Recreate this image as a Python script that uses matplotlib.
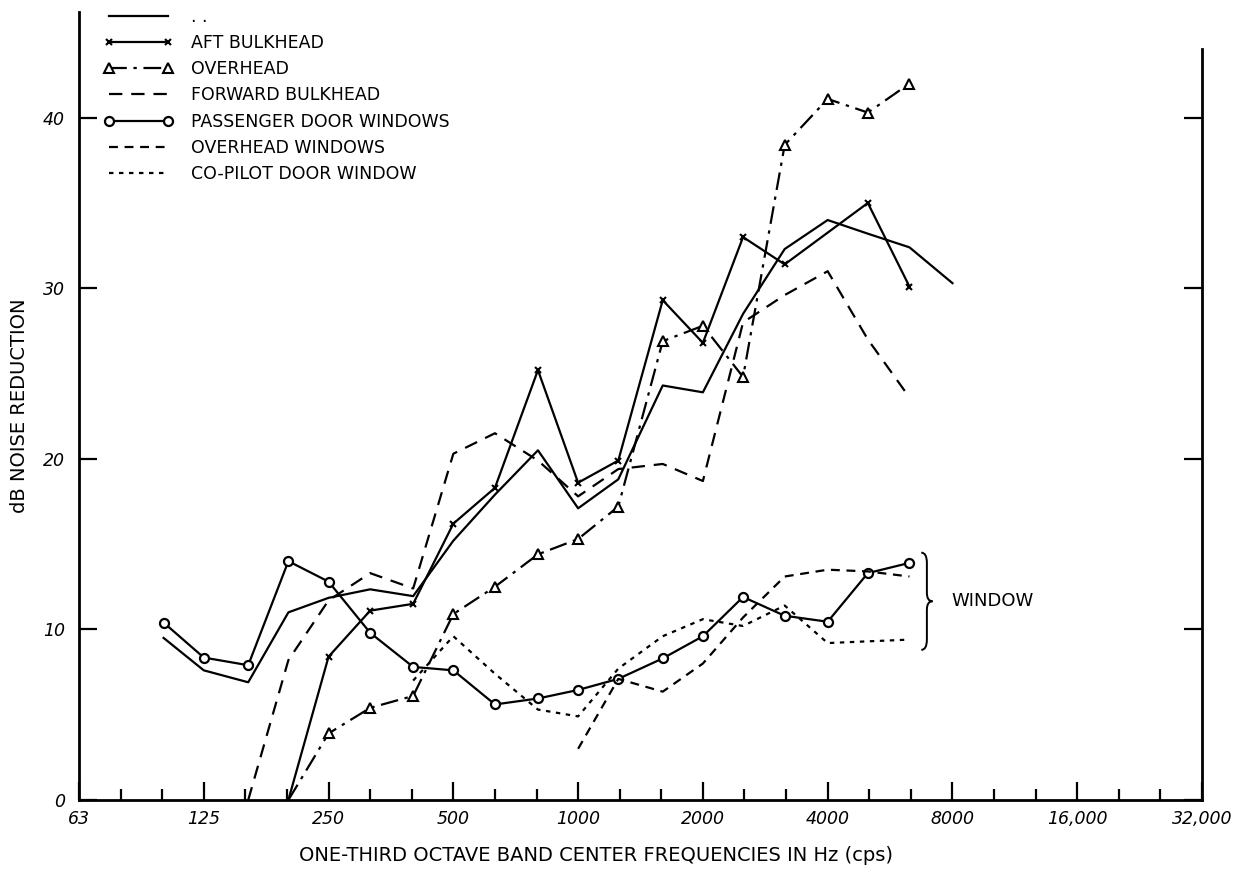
import matplotlib
matplotlib.use('Agg')
import matplotlib.pyplot as plt
from matplotlib.path import Path
from matplotlib.patches import PathPatch
import matplotlib.transforms as mtransforms

# ── data (one-third octave band centres, dB noise reduction) ─────────────
unlabeled_f = [100, 125, 160, 200, 250, 315, 400, 500, 630, 800, 1000, 1250,
               1600, 2000, 2500, 3150, 4000, 5000, 6300, 8000]
unlabeled_db = [9.5, 7.6, 6.9, 11.0, 11.85, 12.35, 11.95, 15.2, 17.9, 20.5,
                17.1, 18.8, 24.3, 23.9, 28.5, 32.3, 34.0, 33.2, 32.4, 30.3]

aft_f = [200, 250, 315, 400, 500, 630, 800, 1000, 1250, 1600, 2000, 2500,
         3150, 5000, 6300]
aft_db = [0.0, 8.4, 11.1, 11.5, 16.2, 18.3, 25.2, 18.6, 19.9, 29.3, 26.8,
          33.0, 31.4, 35.0, 30.1]

overhead_f = [200, 250, 315, 400, 500, 630, 800, 1000, 1250, 1600, 2000,
              2500, 3150, 4000, 5000, 6300]
overhead_db = [0.0, 3.9, 5.4, 6.1, 10.9, 12.5, 14.4, 15.3, 17.2, 26.9, 27.8,
               24.8, 38.4, 41.1, 40.3, 42.0]

forward_f = [160, 200, 250, 315, 400, 500, 630, 800, 1000, 1250, 1600, 2000,
             2500, 3150, 4000, 5000, 6300]
forward_db = [0.0, 8.2, 11.7, 13.3, 12.4, 20.3, 21.5, 19.9, 17.8, 19.4, 19.7,
              18.7, 28.0, 29.6, 31.0, 27.0, 23.6]

passenger_f = [100, 125, 160, 200, 250, 315, 400, 500, 630, 800, 1000, 1250,
               1600, 2000, 2500, 3150, 4000, 5000, 6300]
passenger_db = [10.4, 8.35, 7.9, 14.0, 12.8, 9.8, 7.8, 7.6, 5.6, 5.95, 6.45,
                7.1, 8.3, 9.6, 11.9, 10.8, 10.45, 13.3, 13.9]

ovh_win_f = [1000, 1250, 1600, 2000, 2500, 3150, 4000, 5000, 6300]
ovh_win_db = [3.0, 7.1, 6.35, 8.0, 10.7, 13.1, 13.5, 13.4, 13.1]

copilot_f = [400, 500, 630, 800, 1000, 1250, 1600, 2000, 2500, 3150, 4000,
             5000, 6300]
copilot_db = [7.0, 9.6, 7.4, 5.3, 4.9, 7.7, 9.6, 10.6, 10.2, 11.4, 9.2, 9.3,
              9.4]

octave_ticks = [62.5 * 2 ** k for k in range(10)]
octave_labels = ['63', '125', '250', '500', '1000', '2000', '4000', '8000',
                 '16,000', '32,000']
y_ticks = [0, 10, 20, 30, 40]

# window bracket (annotation)
brace_lo, brace_hi = 8.8, 14.5
brace_x = 0.753          # axes fraction

plt.rcParams['font.family'] = ['DejaVu Sans']

fig = plt.figure(figsize=(12.46, 8.72), dpi=100)
ax = fig.add_axes([0.0634, 0.0826, 0.9013, 0.9037])
ax.set_xscale('log', base=2)
ax.set_xlim(62.5, 32000)
ax.set_ylim(0, 46.2)

lw = 1.6
k = 'black'
ax.plot(unlabeled_f, unlabeled_db, color=k, lw=lw, label='. .')
ax.plot(aft_f, aft_db, color=k, lw=lw, marker='x', ms=5, mew=1.5,
        markevery=list(range(1, len(aft_f))), label='AFT BULKHEAD')
ax.plot(overhead_f, overhead_db, color=k, lw=lw, dashes=(8, 3, 1.5, 3),
        marker='^', ms=7, mfc='white', mew=1.5,
        markevery=list(range(1, len(overhead_f))), label='OVERHEAD')
ax.plot(forward_f, forward_db, color=k, lw=lw, dashes=(6, 4),
        label='FORWARD BULKHEAD')
ax.plot(passenger_f, passenger_db, color=k, lw=lw, marker='o', ms=6.5,
        mfc='white', mew=1.6, label='PASSENGER DOOR WINDOWS')
ax.plot(ovh_win_f, ovh_win_db, color=k, lw=lw, dashes=(4, 3),
        label='OVERHEAD WINDOWS')
ax.plot(copilot_f, copilot_db, color=k, lw=lw, dashes=(2, 2.5),
        label='CO-PILOT DOOR WINDOW')

# ── axes styling ───────────────────────────────────────────────────────
ax.spines['top'].set_visible(False)
for s in ('left', 'right', 'bottom'):
    ax.spines[s].set_linewidth(2.0)
ax.spines['right'].set_bounds(0, 44)

ax.set_xticks(octave_ticks)
ax.set_xticklabels(octave_labels, fontsize=12.5, style='italic')
third = [62.5 * 2 ** (i / 3) for i in range(28) if i % 3]
ax.xaxis.set_minor_locator(matplotlib.ticker.FixedLocator(third))
ax.xaxis.set_minor_formatter(matplotlib.ticker.NullFormatter())
ax.tick_params(axis='x', which='major', direction='in', length=13, width=1.6,
               pad=7)
ax.tick_params(axis='x', which='minor', direction='in', length=8, width=1.6)

ax.set_yticks(y_ticks)
ax.set_yticklabels([str(v) for v in y_ticks], fontsize=12.5, style='italic')
ax.tick_params(axis='y', direction='in', length=13, width=1.6, pad=10,
               right=True)

ax.set_xlabel('ONE-THIRD OCTAVE BAND CENTER FREQUENCIES IN Hz (cps)',
              fontsize=14)
ax.xaxis.set_label_coords(0.46, -0.058)
ax.set_ylabel('dB NOISE REDUCTION', fontsize=14, labelpad=10)

# ── bracket + WINDOW label ─────────────────────────────────────────────
trans = mtransforms.blended_transform_factory(ax.transAxes, ax.transData)
mid = (brace_lo + brace_hi) / 2
x0, xm, xt = brace_x - 0.003, brace_x + 0.002, brace_x + 0.007
verts = [(x0, brace_hi), (xm, brace_hi), (xm, brace_hi - 0.6),
         (xm, mid + 0.5), (xm, mid), (xt, mid),
         (xm, mid), (xm, mid - 0.5),
         (xm, brace_lo + 0.6), (xm, brace_lo), (x0, brace_lo)]
codes = [Path.MOVETO, Path.CURVE3, Path.CURVE3,
         Path.LINETO, Path.CURVE3, Path.CURVE3,
         Path.CURVE3, Path.CURVE3,
         Path.LINETO, Path.CURVE3, Path.CURVE3]
ax.add_patch(PathPatch(Path(verts, codes), transform=trans, fill=False,
                       lw=1.4, color=k, clip_on=False))
ax.text(brace_x + 0.024, mid, 'WINDOW', transform=trans, fontsize=13,
        va='center', ha='left')

leg = ax.legend(loc='upper left', bbox_to_anchor=(0.022, 1.005),
                frameon=False, fontsize=12.5, handlelength=4.0,
                handletextpad=1.0, labelspacing=0.47, numpoints=2,
                borderpad=0, borderaxespad=0)

fig.savefig('out.png', dpi=100)
plt.close(fig)
